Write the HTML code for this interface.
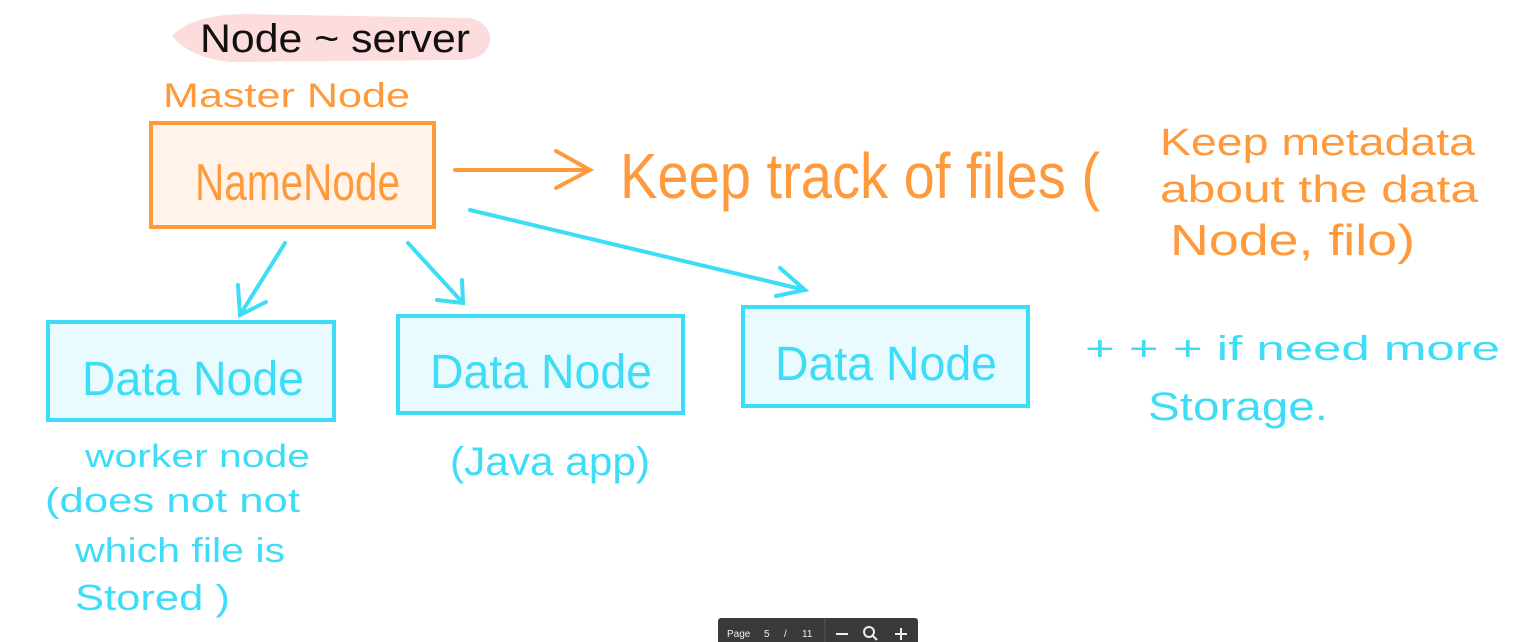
<!DOCTYPE html>
<html><head><meta charset="utf-8"><style>
html,body{margin:0;padding:0;background:#fff;width:1519px;height:642px;overflow:hidden}
svg{display:block}
text{font-family:"Liberation Sans",sans-serif}
</style></head><body>
<svg width="1519" height="642" viewBox="0 0 1519 642" xmlns="http://www.w3.org/2000/svg">
<path d="M172 36 Q190 16 240 14 L470 18 Q492 24 490 42 Q486 60 460 60 L230 62 Q190 58 172 36Z" fill="#fcdcdc"/>
<text x="200" y="52" font-size="40" fill="#111" textLength="270" lengthAdjust="spacingAndGlyphs">Node ~ server</text>
<g fill="#ff9a3c" stroke="none">
<text x="163" y="107" font-size="34" textLength="247" lengthAdjust="spacingAndGlyphs">Master Node</text>
</g>
<rect x="151" y="123" width="283" height="104" fill="#fff3ea" stroke="#ff9a3c" stroke-width="4"/>
<text x="195" y="200" font-size="52" fill="#ff9a3c" textLength="205" lengthAdjust="spacingAndGlyphs">NameNode</text>
<g stroke="#ff9a3c" stroke-width="4" fill="none" stroke-linecap="round">
<path d="M455 170 L590 170 M556 151 L590 170 L556 188"/>
</g>
<g fill="#ff9a3c">
<text x="620" y="198" font-size="64" textLength="480" lengthAdjust="spacingAndGlyphs">Keep track of files (</text>
<text x="1160" y="155" font-size="38" textLength="315" lengthAdjust="spacingAndGlyphs">Keep metadata</text>
<text x="1160" y="202" font-size="38" textLength="318" lengthAdjust="spacingAndGlyphs">about the data</text>
<text x="1170" y="255" font-size="44" textLength="245" lengthAdjust="spacingAndGlyphs">Node, filo)</text>
</g>
<g stroke="#3ddcf7" stroke-width="4" fill="none" stroke-linecap="round">
<path d="M285 243 L240 315 M238 285 L240 315 L266 302"/>
<path d="M408 243 L463 303 M437 300 L463 303 L462 280"/>
<path d="M470 210 L805 290 M780 268 L805 290 L776 296"/>
</g>
<g fill="#eafbff" stroke="#3ddcf7" stroke-width="4">
<rect x="48" y="322" width="286" height="98"/>
<rect x="398" y="316" width="285" height="97"/>
<rect x="743" y="307" width="285" height="99"/>
</g>
<g fill="#3ddcf7">
<text x="82" y="395" font-size="48" textLength="222" lengthAdjust="spacingAndGlyphs">Data Node</text>
<text x="430" y="388" font-size="48" textLength="222" lengthAdjust="spacingAndGlyphs">Data Node</text>
<text x="775" y="380" font-size="48" textLength="222" lengthAdjust="spacingAndGlyphs">Data Node</text>
<text x="1085" y="360" font-size="34" textLength="415" lengthAdjust="spacingAndGlyphs">+ + + if need more</text>
<text x="1148" y="420" font-size="40" textLength="180" lengthAdjust="spacingAndGlyphs">Storage.</text>
<text x="85" y="467" font-size="32" textLength="225" lengthAdjust="spacingAndGlyphs">worker node</text>
<text x="45" y="512" font-size="34" textLength="255" lengthAdjust="spacingAndGlyphs">(does not  not</text>
<text x="75" y="562" font-size="34" textLength="210" lengthAdjust="spacingAndGlyphs">which file is</text>
<text x="75" y="610" font-size="36" textLength="155" lengthAdjust="spacingAndGlyphs">Stored )</text>
<text x="450" y="475" font-size="40" textLength="200" lengthAdjust="spacingAndGlyphs">(Java app)</text>
</g>
<rect x="718" y="618" width="200" height="30" rx="3" fill="#3a3a3a"/>
<line x1="825" y1="618" x2="825" y2="642" stroke="#555" stroke-width="1"/>
<g fill="#eee" font-size="10">
<text x="727" y="637">Page</text>
<text x="764" y="637">5</text>
<text x="784" y="637">/</text>
<text x="802" y="637">11</text>
</g>
<g stroke="#eee" stroke-width="2" fill="none">
<path d="M836 634 L848 634"/>
<circle cx="869" cy="632" r="5"/>
<path d="M873 636 L877 640"/>
<path d="M895 634 L907 634 M901 628 L901 640"/>
</g>
</svg>
</body></html>
